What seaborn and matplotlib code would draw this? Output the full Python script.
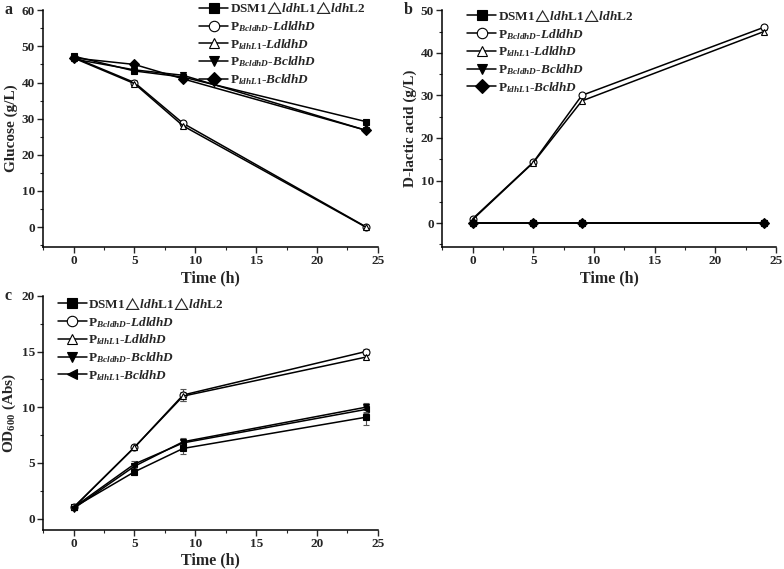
import numpy as np
import pandas as pd
import matplotlib
matplotlib.use("Agg")
import matplotlib.pyplot as plt
import seaborn as sns

# sampling times (h)
time = [0, 5, 9, 24]

strains = ["DSM1$\\!\\triangle\\!\\mathit{ldh}$L1$\\!\\triangle\\!\\mathit{ldh}$L2",
           "P$_{\\mathit{BcldhD}}$-$\\mathit{LdldhD}$",
           "P$_{\\mathit{ldhL1}}$-$\\mathit{LdldhD}$",
           "P$_{\\mathit{BcldhD}}$-$\\mathit{BcldhD}$",
           "P$_{\\mathit{ldhL1}}$-$\\mathit{BcldhD}$"]

# glucose (g/L)
glucose = [[47.3, 43.2, 41.5, 29.2],
           [47.0, 40.0, 28.7, 0.1],
           [46.8, 39.7, 28.0, 0.0],
           [46.5, 43.5, 42.0, 26.8],
           [46.8, 45.0, 41.0, 26.8]]
glucose_err = [[0.4, 0.4, 0.4, 0.4],
               [0.4, 0.6, 0.6, 0.2],
               [0.4, 0.6, 0.6, 0.2],
               [0.4, 0.4, 0.4, 0.4],
               [0.4, 0.4, 0.4, 0.4]]

# D-lactic acid (g/L)
lactic = [[0.1, 0.1, 0.1, 0.1],
          [1.0, 14.3, 30.0, 46.0],
          [0.8, 14.2, 28.7, 45.0],
          [0.1, 0.1, 0.1, 0.1],
          [0.1, 0.1, 0.1, 0.1]]
lactic_err = [[0.1, 0.1, 0.1, 0.1],
              [0.3, 0.5, 0.6, 0.6],
              [0.3, 0.5, 0.6, 0.6],
              [0.1, 0.1, 0.1, 0.1],
              [0.1, 0.1, 0.1, 0.1]]

# OD600
od = [[1.0, 4.2, 6.3, 9.1],
      [1.0, 6.4, 11.1, 15.0],
      [1.0, 6.4, 11.0, 14.5],
      [0.9, 4.7, 6.9, 10.0],
      [1.0, 4.9, 6.8, 9.8]]
od_err = [[0.1, 0.3, 0.5, 0.7],
          [0.1, 0.2, 0.5, 0.2],
          [0.1, 0.2, 0.4, 0.2],
          [0.1, 0.3, 0.3, 0.4],
          [0.1, 0.3, 0.3, 0.3]]

markers_ab = ["s", "o", "^", "v", "D"]
markers_c = ["s", "o", "^", "v", "<"]
open_marker = [False, True, True, False, False]

sns.set_style("ticks")
plt.rcParams["font.family"] = ["Liberation Serif", "DejaVu Sans"]
plt.rcParams["font.weight"] = "bold"
plt.rcParams["mathtext.fontset"] = "custom"
plt.rcParams["mathtext.rm"] = "Liberation Serif:bold"
plt.rcParams["mathtext.it"] = "Liberation Serif:bold:italic"
plt.rcParams["mathtext.bf"] = "Liberation Serif:bold"
plt.rcParams["mathtext.fallback"] = "stix"

fig = plt.figure(figsize=(7.84, 5.69), dpi=100)
ax_a = fig.add_axes([0.055, 0.566, 0.427, 0.416])
ax_b = fig.add_axes([0.564, 0.566, 0.426, 0.416])
ax_c = fig.add_axes([0.055, 0.069, 0.427, 0.411])


def draw_panel(ax, values, errors, markers, ylabel, ylim, yticks, letter, legend_pos):
    for i in range(len(strains)):
        face = "white" if open_marker[i] else "black"
        ax.errorbar(time, values[i], yerr=errors[i], fmt="none", ecolor="#555555",
                    elinewidth=0.8, capsize=2, capthick=0.8, zorder=2)
        sns.lineplot(x=time, y=values[i], ax=ax, color="black", linewidth=1.1,
                     marker=markers[i], markersize=5, mfc=face, mec="black",
                     mew=0.8, label=strains[i], zorder=3)
    ax.set_xlim(-2.5, 25)
    ax.set_xticks([0, 5, 10, 15, 20, 25])
    ax.set_yticks(yticks)
    ax.set_xticks(np.arange(-2.5, 25.1, 2.5), minor=True)
    step = (yticks[1] - yticks[0]) / 2
    ax.set_yticks(np.arange(yticks[0] - step, yticks[-1] + 0.01, step), minor=True)
    ax.set_ylim(*ylim)
    ax.tick_params(axis="both", which="major", direction="out", length=4, width=1,
                   labelsize=9.5, pad=2)
    ax.tick_params(axis="both", which="minor", direction="out", length=2.5, width=0.8)
    for lab in ax.get_xticklabels() + ax.get_yticklabels():
        lab.set_fontweight("bold")
    sns.despine(ax=ax)
    for sp in ["left", "bottom"]:
        ax.spines[sp].set_linewidth(1.1)
        ax.spines[sp].set_color("black")
    ax.set_xlabel("Time (h)", fontsize=11.5, fontweight="bold", labelpad=2)
    ax.set_ylabel(ylabel, fontsize=11, fontweight="bold")
    ax.yaxis.set_label_coords(-0.075, 0.5)
    ax.text(-0.115, 1.0, letter, transform=ax.transAxes, fontsize=11.5,
            fontweight="bold", va="center", ha="left")
    ax.legend(loc="upper left", bbox_to_anchor=legend_pos, frameon=False,
              fontsize=9.5, markerscale=1.5, handlelength=2.2, handletextpad=0.1,
              labelspacing=0.22, borderpad=0.2)


draw_panel(ax_a, glucose, glucose_err, markers_ab, "Glucose (g/L)", (-5.5, 60),
           [0, 10, 20, 30, 40, 50, 60], "a", (0.439, 1.085))
draw_panel(ax_b, lactic, lactic_err, markers_ab, "D-lactic acid (g/L)", (-5.6, 50),
           [0, 10, 20, 30, 40, 50], "b", (0.048, 1.053))
draw_panel(ax_c, od, od_err, markers_c, "OD$_{600}$ (Abs)", (-1, 20),
           [0, 5, 10, 15, 20], "c", (0.016, 1.043))

fig.savefig("out.png", dpi=100)
